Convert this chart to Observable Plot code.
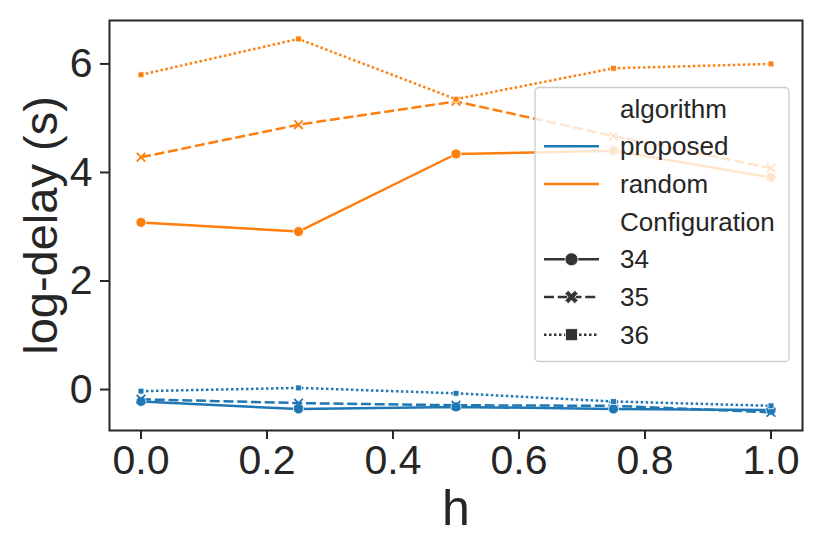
<!DOCTYPE html>
<html><head><meta charset="utf-8">
<script src="https://cdn.jsdelivr.net/npm/d3@7"></script>
<script src="https://cdn.jsdelivr.net/npm/@observablehq/plot@0.6"></script>
<style>
body{margin:0;background:#fff;}
#chart{width:830px;height:554px;}
</style>
</head><body><div id="chart"></div>
<script>
// ---- data ----
const hValues = [0, 0.25, 0.5, 0.75, 1.0];
const algorithms = ["proposed", "random"];
const configurations = ["34", "35", "36"];
const proposed34 = [-0.22, -0.36, -0.32, -0.36, -0.38];
const proposed35 = [-0.18, -0.25, -0.29, -0.30, -0.42];
const proposed36 = [-0.03, 0.03, -0.07, -0.22, -0.30];
const random34 = [3.08, 2.91, 4.34, 4.40, 3.91];
const random35 = [4.28, 4.88, 5.31, 4.67, 4.08];
const random36 = [5.80, 6.46, 5.35, 5.92, 6.00];
const xTicks = [0.0, 0.2, 0.4, 0.6, 0.8, 1.0];
const yTicks = [0, 2, 4, 6];
const xLabel = "h";
const yLabel = "log-delay (s)";
const legendAlgTitle = "algorithm";
const legendCfgTitle = "Configuration";

const seriesTable = {
  proposed: {"34": proposed34, "35": proposed35, "36": proposed36},
  random: {"34": random34, "35": random35, "36": random36}
};
const rows = [];
for (const a of algorithms) for (const c of configurations)
  hValues.forEach((h, i) => rows.push({h, algorithm: a, configuration: c, value: seriesTable[a][c][i]}));

const colors = ["#1f77b4", "#ff7f0e"];
const dashes = {"34": null, "35": "10,3.75", "36": "2.5,2.5"};
const font = "'Liberation Sans', Arial, sans-serif";
const ink = "#262626";

const marks = [];
for (const c of configurations) {
  const sub = rows.filter(d => d.configuration === c);
  marks.push(Plot.line(sub, {x: "h", y: "value", z: "algorithm", stroke: "algorithm",
    strokeWidth: 2.5, strokeDasharray: dashes[c], strokeLinecap: "butt"}));
}
for (const c of configurations) {
  const sub = rows.filter(d => d.configuration === c);
  if (c === "34") marks.push(Plot.dot(sub, {x: "h", y: "value", fill: "algorithm", stroke: "white", strokeWidth: 0.8, symbol: "circle", r: 5}));
  if (c === "35") marks.push(Plot.dot(sub, {x: "h", y: "value", stroke: "algorithm", strokeWidth: 1.8, symbol: "times", r: 4}));
  if (c === "36") marks.push(Plot.dot(sub, {x: "h", y: "value", fill: "algorithm", stroke: "white", strokeWidth: 0.8, symbol: "square", r: 3.3}));
}

const chart = Plot.plot({
  width: 830, height: 554,
  marginLeft: 109, marginRight: 28, marginTop: 20, marginBottom: 124,
  style: {fontFamily: font, color: ink, background: "white", overflow: "visible"},
  x: {domain: [-0.05, 1.05]},
  y: {domain: [-0.755, 6.80]},
  color: {domain: algorithms, range: colors},
  marks: [
    ...marks,
    Plot.frame({stroke: ink, strokeWidth: 2}),
    Plot.axisX({ticks: xTicks, tickFormat: d => d.toFixed(1), tickSize: 9, tickPadding: 5,
      fontSize: 41, stroke: ink, strokeWidth: 2, fill: ink, label: null}),
    Plot.axisY({ticks: yTicks, tickFormat: d => String(d), tickSize: 9, tickPadding: 8,
      fontSize: 41, stroke: ink, strokeWidth: 2, fill: ink, label: null}),
    Plot.text([xLabel], {text: d => d, frameAnchor: "bottom", dy: 78, lineAnchor: "middle", textAnchor: "middle", fontSize: 50, fill: ink}),
    Plot.text([yLabel], {text: d => d, frameAnchor: "left", dx: -68, rotate: -90, lineAnchor: "middle", textAnchor: "middle", fontSize: 47, fill: ink})
  ]
});
document.getElementById("chart").appendChild(chart);

// ---- legend (seaborn-style, semi-transparent box) ----
const svg = d3.select(chart);
const lg = svg.append("g").attr("font-family", font).attr("font-size", 26).attr("fill", ink).attr("text-anchor", "start");
lg.append("rect").attr("x", 535).attr("y", 87.5).attr("width", 254).attr("height", 274)
  .attr("rx", 4).attr("fill", "white").attr("fill-opacity", 0.8)
  .attr("stroke", "#cccccc").attr("stroke-width", 1.3);
const textX = 620, hx0 = 544, hx1 = 599, hxm = 571.5;
const legendRows = [
  {label: legendAlgTitle, type: "title"},
  {label: algorithms[0], type: "color", color: colors[0]},
  {label: algorithms[1], type: "color", color: colors[1]},
  {label: legendCfgTitle, type: "title"},
  {label: configurations[0], type: "style", cfg: "34"},
  {label: configurations[1], type: "style", cfg: "35"},
  {label: configurations[2], type: "style", cfg: "36"}
];
legendRows.forEach((r, i) => {
  const cy = 108.5 + i * 37.7;
  lg.append("text").attr("x", textX).attr("y", cy).attr("dy", "0.35em").attr("text-anchor", "start").text(r.label);
  if (r.type === "color") {
    lg.append("line").attr("x1", hx0).attr("x2", hx1).attr("y1", cy).attr("y2", cy)
      .attr("stroke", r.color).attr("stroke-width", 2.5);
  } else if (r.type === "style") {
    const dark = "#333333";
    lg.append("line").attr("x1", hx0).attr("x2", hx1).attr("y1", cy).attr("y2", cy)
      .attr("stroke", dark).attr("stroke-width", 2.5)
      .attr("stroke-dasharray", dashes[r.cfg]);
    if (r.cfg === "34") lg.append("circle").attr("cx", hxm).attr("cy", cy).attr("r", 6.5).attr("fill", dark).attr("stroke", "white").attr("stroke-width", 0.8);
    if (r.cfg === "35") lg.append("path").attr("transform", `translate(${hxm},${cy}) rotate(45)`)
      .attr("d", d3.symbol(d3.symbolCross, 110)()).attr("fill", dark).attr("stroke", "white").attr("stroke-width", 0.8);
    if (r.cfg === "36") lg.append("rect").attr("x", hxm - 6).attr("y", cy - 6).attr("width", 12).attr("height", 12).attr("fill", dark).attr("stroke", "white").attr("stroke-width", 0.8);
  }
});
</script>
</body></html>
